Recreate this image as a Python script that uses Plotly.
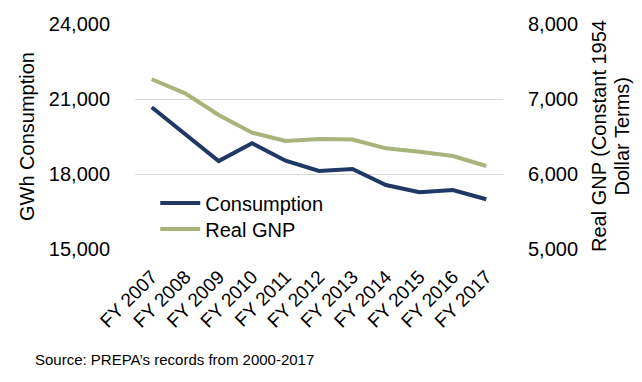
import plotly.graph_objects as go

categories = ["FY 2007", "FY 2008", "FY 2009", "FY 2010", "FY 2011", "FY 2012",
              "FY 2013", "FY 2014", "FY 2015", "FY 2016", "FY 2017"]
consumption = [20670, 19610, 18520, 19230, 18530, 18120, 18200, 17560, 17270, 17360, 16990]
real_gnp = [7263, 7076, 6787, 6551, 6440, 6466, 6460, 6342, 6297, 6240, 6107]

left_ticks = [15000, 18000, 21000, 24000]
right_ticks = [5000, 6000, 7000, 8000]

FONT = "Arial, 'Liberation Sans', sans-serif"

fig = go.Figure()
fig.add_trace(go.Scatter(x=categories, y=consumption, name="Consumption", mode="lines",
                         line=dict(color="#1F3864", width=4), yaxis="y", legend="legend"))
fig.add_trace(go.Scatter(x=categories, y=real_gnp, name="Real GNP", mode="lines",
                         line=dict(color="#A7B47A", width=4), yaxis="y2", legend="legend2"))

# the page body has an 8px margin, so the figure is laid out 8px up/left
fig.update_layout(
    width=634, height=374,
    margin=dict(l=127, r=139, t=16, b=133, autoexpand=False),
    paper_bgcolor="white", plot_bgcolor="white",
    font=dict(family=FONT, size=20, color="#000000"),
    showlegend=True,
    legend=dict(x=0.055, y=0.204, xanchor="left", yanchor="middle",
                bgcolor="rgba(0,0,0,0)", font=dict(size=20), itemwidth=40),
    legend2=dict(x=0.055, y=0.0889, xanchor="left", yanchor="middle",
                 bgcolor="rgba(0,0,0,0)", font=dict(size=20), itemwidth=40),
    xaxis=dict(type="category", range=[-0.5, 10.5], showgrid=False, zeroline=False,
               showline=False, ticks="", tickangle=-45, tickfont=dict(size=19),
               ticklabelstandoff=12, automargin=False),
    yaxis=dict(range=[15000, 24000], tickvals=left_ticks, tickformat=",",
               showgrid=True, gridcolor="#D9D9D9", gridwidth=1, zeroline=False,
               showline=False, ticks="", ticklabelstandoff=24, automargin=False),
    yaxis2=dict(range=[5000, 8000], tickvals=right_ticks, tickformat=",",
                overlaying="y", side="right", showgrid=False, zeroline=False,
                showline=False, ticks="", ticklabelstandoff=24, automargin=False),
    annotations=[
        dict(text="GWh Consumption", textangle=-90, xref="paper", yref="paper",
             x=(18.5 - 127) / 368, y=0.5, xanchor="center", yanchor="middle",
             showarrow=False, font=dict(size=20)),
        dict(text="Real GNP (Constant 1954", textangle=-90,
             xref="paper", yref="paper", x=(590.5 - 127) / 368, y=0.5, xanchor="center",
             yanchor="middle", showarrow=False, font=dict(size=20)),
        dict(text="Dollar Terms)", textangle=-90,
             xref="paper", yref="paper", x=(613 - 127) / 368, y=0.5, xanchor="center",
             yanchor="middle", showarrow=False, font=dict(size=20)),
        dict(text="Source: PREPA\u2019s records from 2000-2017", xref="paper",
             yref="paper", x=-0.277, y=-0.49, xanchor="left", yanchor="middle",
             showarrow=False, font=dict(size=15)),
    ],
)

fig.write_html("out.html")
